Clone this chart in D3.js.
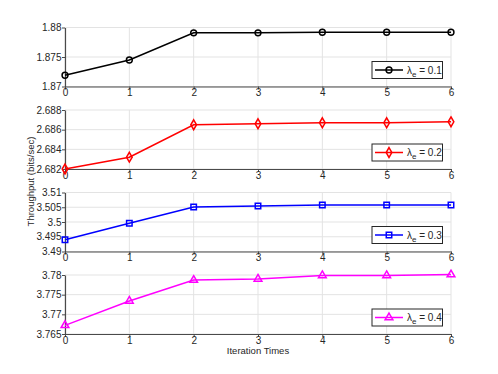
<!DOCTYPE html>
<html>
<head>
<meta charset="utf-8">
<script src="https://cdn.jsdelivr.net/npm/d3@7"></script>
<style>
  body { margin: 0; background: #fff; }
  svg { display: block; }
  text { font-family: "Liberation Sans", Arial, sans-serif; fill: #262626; }
</style>
</head>
<body>
<svg id="chart" width="498" height="374"></svg>
<script>
// data
var iterations = [0, 1, 2, 3, 4, 5, 6];
var lambdaLabels = ['0.1', '0.2', '0.3', '0.4'];
var throughput01 = [1.8719, 1.8745, 1.8791, 1.8791, 1.8792, 1.8792, 1.8792];
var throughput02 = [2.6820, 2.6832, 2.6865, 2.6866, 2.6867, 2.6867, 2.6868];
var throughput03 = [3.4940, 3.4996, 3.5051, 3.5054, 3.5058, 3.5058, 3.5058];
var throughput04 = [3.7672, 3.7734, 3.7787, 3.7790, 3.7799, 3.7799, 3.7801];
var yTicks01 = [1.87, 1.875, 1.88];
var yTicks02 = [2.682, 2.684, 2.686, 2.688];
var yTicks03 = [3.49, 3.495, 3.5, 3.505, 3.51];
var yTicks04 = [3.765, 3.77, 3.775, 3.78];
var colors = ['#000000', '#ff0000', '#0000ff', '#ff00ff'];

var panels = [
  { values: throughput01, ticks: yTicks01, marker: 'circle' },
  { values: throughput02, ticks: yTicks02, marker: 'diamond' },
  { values: throughput03, ticks: yTicks03, marker: 'square' },
  { values: throughput04, ticks: yTicks04, marker: 'triangle' }
];

var svg = d3.select('#chart');
var left = 65, right = 451, panelH = 59, firstTop = 27.5, step = 82.5;

var x = d3.scaleLinear().domain([0, 6]).range([left, right]);

var markerPath = function(type) {
  var sym = {
    circle: d3.symbol(d3.symbolCircle, 27),
    diamond: d3.symbol(d3.symbolDiamond, 28),
    square: d3.symbol(d3.symbolSquare, 30),
    triangle: d3.symbol(d3.symbolTriangle, 26)
  }[type];
  return sym();
};

panels.forEach(function(p, i) {
  var top = firstTop + i * step;
  var color = colors[i];
  var y = d3.scaleLinear()
    .domain([p.ticks[0], p.ticks[p.ticks.length - 1]])
    .range([top + panelH, top]);
  var g = svg.append('g');

  // grid
  g.selectAll('line.vgrid').data(iterations).enter().append('line')
    .attr('x1', function(d) { return x(d); }).attr('x2', function(d) { return x(d); })
    .attr('y1', top).attr('y2', top + panelH)
    .attr('stroke', '#e3e3e3').attr('stroke-width', 1);
  g.selectAll('line.hgrid').data(p.ticks).enter().append('line')
    .attr('x1', left).attr('x2', right)
    .attr('y1', function(d) { return y(d); }).attr('y2', function(d) { return y(d); })
    .attr('stroke', '#e3e3e3').attr('stroke-width', 1);

  // axes
  var yAxis = d3.axisLeft(y).tickValues(p.ticks).tickSizeInner(3).tickSizeOuter(0).tickPadding(0.5)
    .tickFormat(function(d) { return String(+d.toFixed(4)); });
  var ya = g.append('g').attr('transform', 'translate(' + left + ',0)').call(yAxis);
  var xAxis = d3.axisBottom(x).tickValues(iterations).tickSizeInner(3).tickSizeOuter(0).tickPadding(-0.5)
    .tickFormat(d3.format('d'));
  var xa = g.append('g').attr('transform', 'translate(0,' + (top + panelH) + ')').call(xAxis);
  [ya, xa].forEach(function(a) {
    a.select('.domain').attr('stroke', '#4a4a4a').attr('stroke-width', 1.2);
    a.selectAll('.tick line').attr('stroke', '#4a4a4a');
    a.selectAll('.tick text').attr('font-size', 10).attr('fill', '#262626')
      .attr('font-family', '"Liberation Sans", Arial, sans-serif');
  });

  // series
  var line = d3.line().x(function(d, k) { return x(iterations[k]); }).y(function(d) { return y(d); });
  g.append('path').datum(p.values)
    .attr('d', line).attr('fill', 'none').attr('stroke', color).attr('stroke-width', 1.5);
  g.selectAll('path.mk').data(p.values).enter().append('path')
    .attr('class', 'mk')
    .attr('d', markerPath(p.marker))
    .attr('transform', function(d, k) { return 'translate(' + x(iterations[k]) + ',' + y(d) + ')'; })
    .attr('fill', 'none').attr('stroke', color).attr('stroke-width', 1.5);

  // legend
  var lx = 372, ly = top + panelH - 25, lw = 70.5, lh = 17;
  var lg = g.append('g');
  lg.append('rect').attr('x', lx).attr('y', ly).attr('width', lw).attr('height', lh)
    .attr('fill', '#fff').attr('stroke', '#262626').attr('stroke-width', 1);
  lg.append('line').attr('x1', lx + 3).attr('x2', lx + 31)
    .attr('y1', ly + lh / 2).attr('y2', ly + lh / 2)
    .attr('stroke', color).attr('stroke-width', 1.5);
  lg.append('path').attr('d', markerPath(p.marker))
    .attr('transform', 'translate(' + (lx + 17) + ',' + (ly + lh / 2) + ')')
    .attr('fill', 'none').attr('stroke', color).attr('stroke-width', 1.5);
  var t = lg.append('text').attr('x', lx + 35).attr('y', ly + 12).attr('font-size', 10);
  t.append('tspan').text('λ');
  t.append('tspan').attr('font-size', 8).attr('dy', 3).text('e');
  t.append('tspan').attr('dy', -3).text(' = ' + lambdaLabels[i]);
});

// axis titles
svg.append('text')
  .attr('transform', 'translate(33.5,' + 181.5 + ') rotate(-90)')
  .attr('text-anchor', 'middle').attr('font-size', 9.5)
  .text('Throughput (bits/sec)');
svg.append('text')
  .attr('x', (left + right) / 2).attr('y', 354)
  .attr('text-anchor', 'middle').attr('font-size', 9.5)
  .text('Iteration Times');
</script>
</body>
</html>
